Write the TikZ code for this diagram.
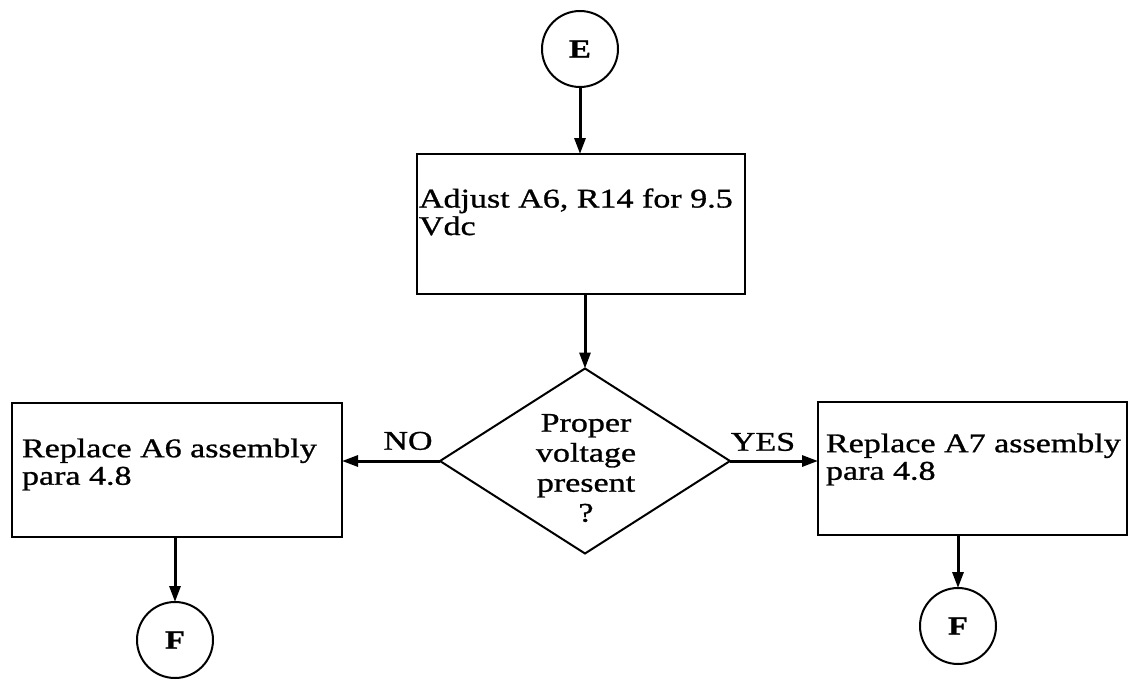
\documentclass[tikz,border=0pt]{standalone}
\usepackage{fontspec}
\setmainfont[FakeStretch=1.26,FakeBold=1]{Liberation Serif}
\usetikzlibrary{shapes.geometric,arrows.meta}
\begin{document}
\begin{tikzpicture}[x=1pt,y=-1pt,
  every node/.style={inner sep=0pt,outer sep=0pt},
  conn/.style={circle,draw,line width=2pt,minimum size=76pt,font=\fontsize{26}{26}\selectfont\bfseries},
  procbox/.style={draw,line width=2pt,anchor=north west},
  decision/.style={diamond,draw,line width=2pt,minimum width=290pt,minimum height=185pt},
  txt/.style={font=\fontsize{27}{27.5}\selectfont,align=left,anchor=north west},
  dtxt/.style={font=\fontsize{27}{30}\selectfont,align=center,anchor=north},
  arr/.style={line width=3pt,-{Triangle[length=16pt,width=11pt]}},
  lbl/.style={font=\fontsize{27}{27}\selectfont}]
\useasboundingbox (0,0) rectangle (1130,680);
% nodes
\node[conn] (E) at (580,49) {E};
\node[procbox,minimum width=328pt,minimum height=140pt] (b1) at (417,154) {};
\node[txt] (t1) at (419,188.5) {Adjust A6, R14 for 9.5\\Vdc};
\node[decision] (d) at (585,461) {};
\node[dtxt] (dt) at (586,414) {Proper\\voltage\\present\\?};
\node[procbox,minimum width=330pt,minimum height=134pt] (bl) at (12,403) {};
\node[txt] (tl) at (22,438.5) {Replace A6 assembly\\para 4.8};
\node[procbox,minimum width=309pt,minimum height=133pt] (br) at (818,402) {};
\node[txt] (tr) at (826,433.5) {Replace A7 assembly\\para 4.8};
\node[conn] (F1) at (175,640) {F};
\node[conn] (F2) at (958,626) {F};
% connectors
\draw[arr] (E.south) -- (E.south |- b1.north);
\draw[arr] (d.north |- b1.south) -- (d.north);
\draw[arr] (d.west) -- (d.west -| bl.east) node[lbl,midway,above=11pt,xshift=17pt] (no) {NO};
\draw[arr] (d.east) -- (d.east -| br.west) node[lbl,midway,above=10pt,xshift=-11pt] (yes) {YES};
\draw[arr] (F1.north |- bl.south) -- (F1.north);
\draw[arr] (F2.north |- br.south) -- (F2.north);
\end{tikzpicture}
\end{document}
